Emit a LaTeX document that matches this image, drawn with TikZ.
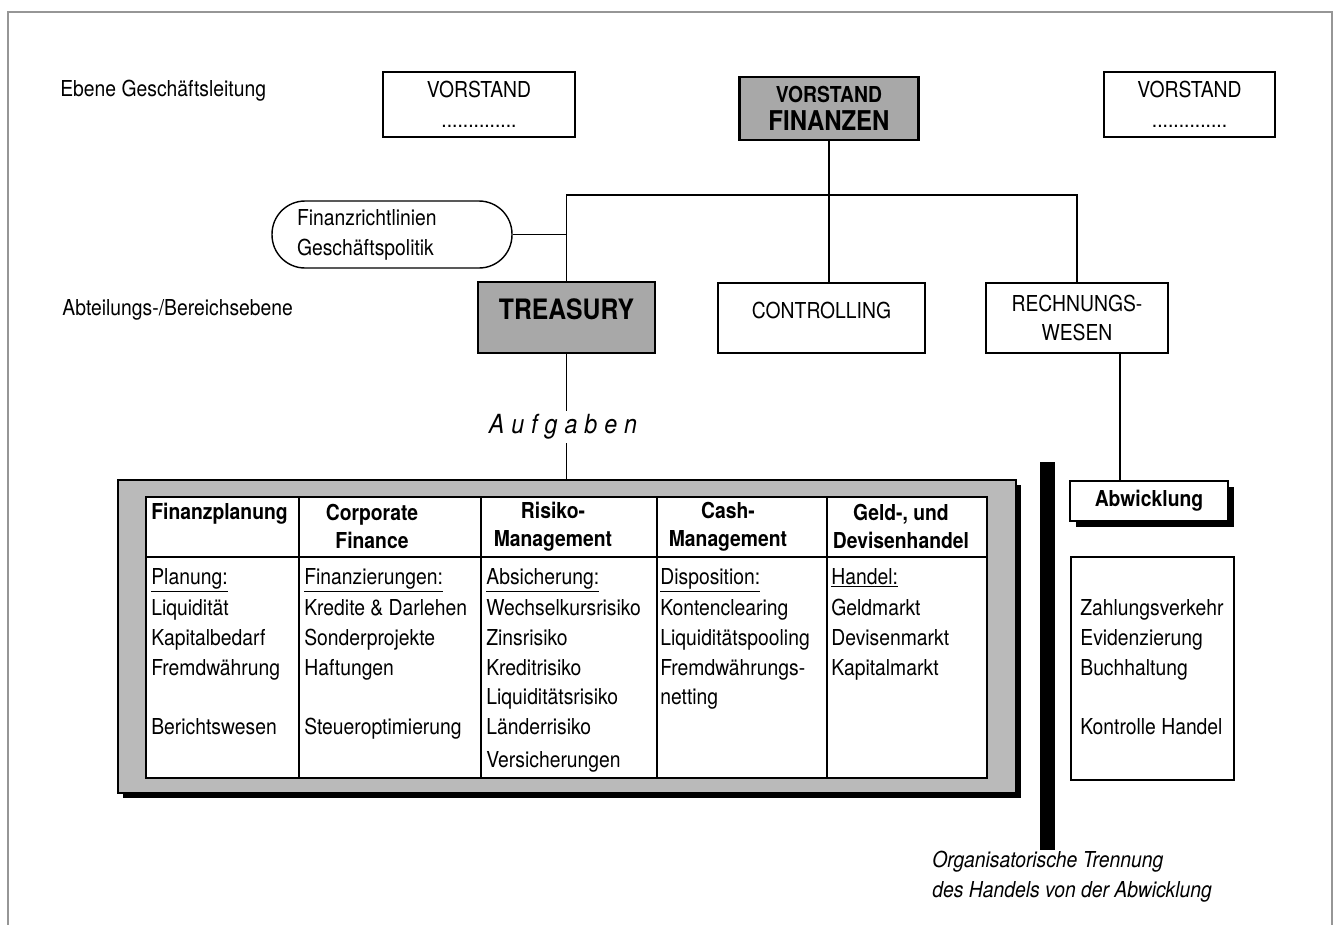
\documentclass[tikz,border=0pt]{standalone}
\usepackage{fontspec}
\setmainfont{TeX Gyre Heros}[FakeStretch=0.88]
\usetikzlibrary{shapes, positioning, calc, shadows}
\definecolor{boxgray}{RGB}{168, 168, 168}
\definecolor{framegray}{RGB}{186, 186, 186}
\definecolor{pagegray}{RGB}{150, 150, 150}

\begin{document}
\begin{tikzpicture}[
    x=0.02cm, y=-0.02cm,
    font=\fontsize{12.5}{13.2}\selectfont,
    orgbox/.style={draw, line width=1.2pt, fill=white, align=center,
        minimum height=1.3cm, inner sep=2pt},
    graybox/.style={orgbox, fill=boxgray, font=\fontsize{12.5}{13.2}\selectfont\bfseries},
    pillbox/.style={draw, line width=0.8pt, rounded corners=0.66cm, align=left,
        text width=3.8cm, inner xsep=0.5cm, minimum height=1.34cm},
    plaintxt/.style={inner sep=0pt, anchor=west},
    listtxt/.style={inner sep=0pt, anchor=base west},
    headtxt/.style={inner sep=0pt, align=center, font=\fontsize{12.5}{13.2}\selectfont\bfseries},
    link/.style={line width=1pt},
    tabline/.style={line width=1.3pt}
]
    \useasboundingbox (0,0) rectangle (1339,924);
    \draw[pagegray, line width=0.6pt] (8,940) -- (8,12) -- (1332,12) -- (1332,940);

    \node[plaintxt] (ebene1) at (60,91) {Ebene Geschäftsleitung};
    \node[plaintxt] (ebene2) at (62,310) {Abteilungs-/Bereichsebene};

    \node[orgbox, minimum width=3.84cm] (vor1) at (479,104.5) {VORSTAND\\[4pt]..............};
    \node[graybox, minimum width=3.58cm, minimum height=1.26cm] (vfin) at (829,108.5)
        {VORSTAND\\[3pt]{\fontsize{15.5}{15}\selectfont FINANZEN}};
    \node[orgbox, minimum width=3.42cm] (vor3) at (1189.5,104.5) {VORSTAND\\[4pt]..............};

    \node[pillbox] (pill) at (392,234.5) {Finanzrichtlinien\\[4pt]Geschäftspolitik};

    \node[graybox, minimum width=3.54cm, minimum height=1.42cm,
        font=\fontsize{16}{16}\selectfont\bfseries] (treasury) at (566.5,317.5) {\raisebox{10pt}{TREASURY}};
    \node[orgbox, minimum width=4.14cm, minimum height=1.4cm] (ctrl) at (821.5,318) {\raisebox{9pt}{CONTROLLING}};
    \node[orgbox, minimum width=3.64cm, minimum height=1.4cm] (rw) at (1077,318) {RECHNUNGS-\\[3pt]WESEN};

    \coordinate (hub) at (829,195);
    \draw[link] (vfin.south) -- (vfin.south |- ctrl.north);
    \draw[link] (treasury.north) |- (rw.north |- hub) -- (rw.north);
    \draw[link] (pill.east) -- (pill.east -| treasury.north);

    \node[inner sep=2pt, font=\fontsize{15}{16}\selectfont\itshape] (aufg) at (563,427)
        {A\hspace{1.4mm}u\hspace{1.4mm}f\hspace{1.4mm}g\hspace{1.4mm}a\hspace{1.4mm}b\hspace{1.4mm}e\hspace{1.4mm}n};

    % Aufgabenbereiche der Treasury
    \node[draw, line width=0.8pt, fill=framegray, minimum width=17.96cm, minimum height=6.26cm,
        drop shadow={shadow xshift=0.1cm, shadow yshift=-0.1cm, fill=black, opacity=1}] (tasks) at (567,636.5) {};
    \node[draw, line width=1.3pt, fill=white, inner sep=0pt,
        minimum width=16.82cm, minimum height=5.62cm] (tab) at (566.5,637.5) {};
    \draw[tabline] (146,557) -- (987,557);
    \foreach \xx in {299,481,657,827}
        \draw[tabline] (\xx,497) -- (\xx,778);

    \draw[link] (treasury.south) -- (treasury.south |- aufg.north);
    \draw[link] (treasury.south |- aufg.south) -- (treasury.south |- tasks.north);

    \node[headtxt, anchor=base west] (h1) at (151,519) {Finanzplanung};
    \node[headtxt] (h2) at (372,526.5) {Corporate\\[3pt]Finance};
    \node[headtxt] (h3) at (553,526.5) {Risiko-\\[3pt]Management};
    \node[headtxt] (h4) at (728,526.5) {Cash-\\[3pt]Management};
    \node[headtxt] (h5) at (901,526.5) {Geld-, und\\[3pt]Devisenhandel};

    \foreach \txt/\yy [count=\i] in {\underline{Planung:}/584, Liquidität/615, Kapitalbedarf/645,
        Fremdwährung/675, Berichtswesen/734}
        \node[listtxt] (fp-\i) at (151,\yy) {\txt};
    \foreach \txt/\yy [count=\i] in {\underline{Finanzierungen:}/584, Kredite \& Darlehen/615,
        Sonderprojekte/645, Haftungen/675, Steueroptimierung/734}
        \node[listtxt] (cf-\i) at (304,\yy) {\txt};
    \foreach \txt/\yy [count=\i] in {\underline{Absicherung:}/584, Wechselkursrisiko/615, Zinsrisiko/645,
        Kreditrisiko/675, Liquiditätsrisiko/704, Länderrisiko/734, Versicherungen/767}
        \node[listtxt] (rm-\i) at (486,\yy) {\txt};
    \foreach \txt/\yy [count=\i] in {\underline{Disposition:}/584, Kontenclearing/615,
        Liquiditätspooling/645, Fremdwährungs-/675, netting/704}
        \node[listtxt] (cm-\i) at (660,\yy) {\txt};
    \foreach \txt/\yy [count=\i] in {\underline{Handel:}/584, Geldmarkt/615, Devisenmarkt/645, Kapitalmarkt/675}
        \node[listtxt] (gd-\i) at (831,\yy) {\txt};

    % Abwicklung
    \node[orgbox, font=\fontsize{12.5}{13.2}\selectfont\bfseries, minimum width=3.16cm, minimum height=0.8cm,
        drop shadow={shadow xshift=0.12cm, shadow yshift=-0.12cm, fill=black, opacity=1}] (abw) at (1149,501) {Abwicklung};
    \draw[link] ([xshift=0.86cm]rw.south) -- ([xshift=0.86cm]rw.south |- abw.north);
    \node[draw, line width=1.3pt, minimum width=3.26cm, minimum height=4.46cm] (abwlist) at (1152.5,668.5) {};
    \foreach \txt/\yy [count=\i] in {Zahlungsverkehr/615, Evidenzierung/645, Buchhaltung/675, Kontrolle Handel/734}
        \node[listtxt] (aw-\i) at (1080,\yy) {\txt};

    \fill (1040,462) rectangle (1055,850);
    \node[plaintxt, align=left, font=\fontsize{12.5}{13.2}\selectfont\itshape] (trennung) at (932,877)
        {Organisatorische Trennung\\[4pt]des Handels von der Abwicklung};
\end{tikzpicture}
\end{document}
